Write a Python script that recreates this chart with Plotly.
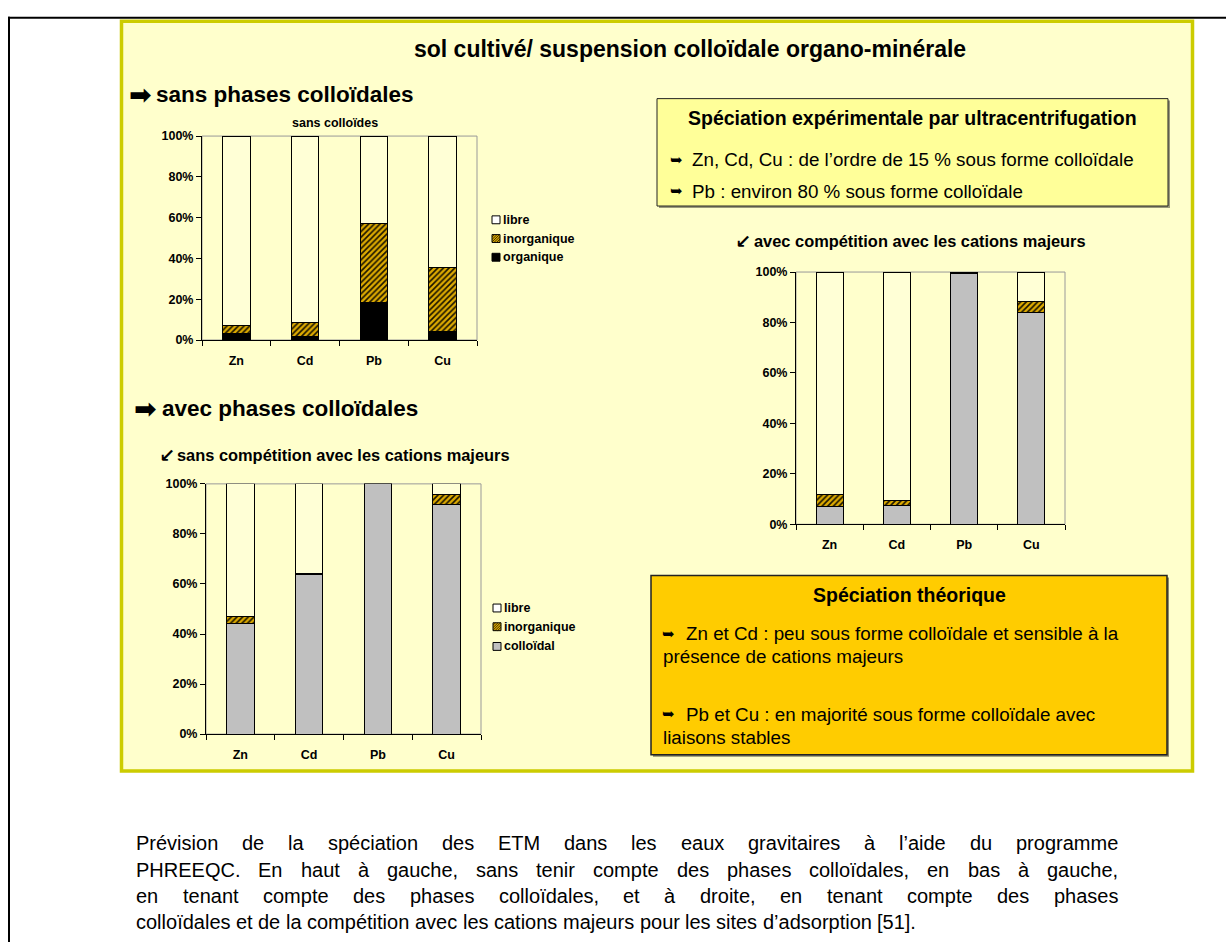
import plotly.graph_objects as go

W, H = 1226, 949
ARIAL = "Liberation Sans, Arial, sans-serif"
SYMB = "DejaVu Sans, sans-serif"

# ---------------------------------------------------------------- data (%)
metals = ["Zn", "Cd", "Pb", "Cu"]

# sans phases colloïdales
sc_organique = [3.2, 1.9, 18.5, 4.3]
sc_inorganique = [3.7, 6.9, 38.4, 31.4]
sc_libre = [93.1, 91.2, 43.1, 64.3]

# avec phases colloïdales, sans compétition avec les cations majeurs
ac_colloidal = [44.1, 63.6, 100.0, 91.7]
ac_inorganique = [3.0, 0.4, 0.0, 4.0]
ac_libre = [52.9, 36.0, 0.0, 4.3]

# avec phases colloïdales, avec compétition avec les cations majeurs
cc_colloidal = [7.2, 7.4, 99.6, 84.0]
cc_inorganique = [4.5, 2.1, 0.4, 4.3]
cc_libre = [88.3, 90.5, 0.0, 11.7]

y_tickvals = [0, 20, 40, 60, 80, 100]
y_ticktext = ["0%", "20%", "40%", "60%", "80%", "100%"]

caption_lines = [
    "Prévision de la spéciation des ETM dans les eaux gravitaires à l’aide du programme",
    "PHREEQC. En haut à gauche, sans tenir compte des phases colloïdales, en bas à gauche,",
    "en tenant compte des phases colloïdales, et à droite, en tenant compte des phases",
    "colloïdales et de la compétition avec les cations majeurs pour les sites d’adsorption [51].",
]

# ---------------------------------------------------------------- styles
PANEL_BG = "#FFFFCC"
PANEL_LINE = "#CCCC00"
LIBRE = "#FFFFD6"
GREY = "#C0C0C0"
GOLD = "#DDAA00"
HATCH_FG = "#1a1400"
HATCH = dict(shape="/", bgcolor=GOLD, fgcolor=HATCH_FG, size=4, solidity=0.4,
             fillmode="replace")


def px(x):
    return x / W


def py(y):
    return 1 - y / H


fig = go.Figure()


def add_bar(xa, ya, vals, color, pattern=None):
    marker = dict(color=color, line=dict(color="black", width=1))
    if pattern:
        marker["pattern"] = pattern
    fig.add_trace(go.Bar(x=metals, y=vals, width=0.4, marker=marker,
                         xaxis=xa, yaxis=ya, showlegend=False, hoverinfo="skip"))


# top left: sans colloïdes
add_bar("x", "y", sc_organique, "black")
add_bar("x", "y", sc_inorganique, GOLD, HATCH)
add_bar("x", "y", sc_libre, LIBRE)
# bottom left: sans compétition
add_bar("x2", "y2", ac_colloidal, GREY)
add_bar("x2", "y2", ac_inorganique, GOLD, HATCH)
add_bar("x2", "y2", ac_libre, LIBRE)
# right: avec compétition
add_bar("x3", "y3", cc_colloidal, GREY)
add_bar("x3", "y3", cc_inorganique, GOLD, HATCH)
add_bar("x3", "y3", cc_libre, LIBRE)

TICKFONT = dict(family=ARIAL, size=12.5, color="black", weight="bold")


def xaxis(left, right, anchor):
    return dict(domain=[px(left), px(right)], anchor=anchor, type="category",
                tickson="boundaries", ticks="outside", ticklen=5, tickcolor="black",
                showline=True, linecolor="black", linewidth=1, showgrid=False,
                tickfont=TICKFONT, ticklabelstandoff=9, fixedrange=True)


def yaxis(top, bottom, anchor):
    return dict(domain=[py(bottom), py(top)], anchor=anchor, range=[0, 100],
                tickvals=y_tickvals, ticktext=y_ticktext, ticks="outside",
                ticklen=5, tickcolor="black", showline=True, linecolor="black",
                linewidth=1, showgrid=False, zeroline=False, tickfont=TICKFONT,
                fixedrange=True)


shapes = []


def rect(x0, y0, x1, y1, fill, line=None, lw=1, layer="below"):
    shapes.append(dict(type="rect", xref="paper", yref="paper",
                       x0=px(x0), x1=px(x1), y0=py(y1), y1=py(y0),
                       fillcolor=fill, layer=layer,
                       line=dict(color=line or fill, width=lw if line else 0)))


def seg(x0, y0, x1, y1, color="black", w=2, layer="above"):
    shapes.append(dict(type="line", xref="paper", yref="paper", x0=px(x0), x1=px(x1),
                       y0=py(y0), y1=py(y1), layer=layer,
                       line=dict(color=color, width=w)))


# page frame and panel
seg(8, 11, W, 11, layer="below")
seg(9, 10, 9, H, layer="below")
rect(121.5, 14.5, 1192.5, 775.5, PANEL_BG, PANEL_LINE, 3.5)
# experimental box
rect(659, 95, 1170, 204, "#9a9a7a")
rect(657, 93, 1168, 202, "#FFFF99", "#222222", 1)
# theoretical box
rect(653, 579, 1169, 761, "#8a8a6a")
rect(651, 577, 1167, 759, "#FFCC00", "#222222", 1.5)

# plot frames (grey top/right border)
for i in ["", "2", "3"]:
    shapes.append(dict(type="rect", xref=f"x{i} domain", yref=f"y{i} domain",
                       x0=0, x1=1, y0=0, y1=1, line=dict(color="#999999", width=1),
                       layer="below"))

annotations = []


def text(x, y, s, size, bold=False, anchor="left", family=ARIAL, color="black"):
    annotations.append(dict(x=px(x), y=py(y), xref="paper", yref="paper",
                            text=f"<b>{s}</b>" if bold else s, showarrow=False,
                            xanchor=anchor, yanchor="middle", borderpad=0,
                            borderwidth=0,
                            font=dict(family=family, size=size, color=color)))


# titles and headings
text(690, 43, "sol cultivé/ suspension colloïdale organo-minérale", 23, True, "center")
text(129, 89, "➡", 27, True, family=SYMB)
text(156, 89, "sans phases colloïdales", 22.5, True)
text(134, 408, "➡", 27, True, family=SYMB)
text(162, 408, "avec phases colloïdales", 22.5, True)
text(335, 118, "sans colloïdes", 12.5, True, "center")
text(159, 455, "↙", 19, True, family=SYMB)
text(177, 455, "sans compétition avec les cations majeurs", 16.4, True)
text(735, 238, "↙", 19, True, family=SYMB)
text(754, 238, "avec compétition avec les cations majeurs", 16.4, True)


# legends: swatch squares, the hatched one drawn with short diagonal strokes
def swatch(x, yc, fill, hatched=False, s=8):
    y0 = yc - s / 2
    rect(x, y0, x + s, y0 + s, fill, "black", 1, layer="above")
    if hatched:
        for c in (2.5, 5.0, 7.5, 10.0, 12.5):
            if c <= s:
                seg(x, y0 + c, x + c, y0, HATCH_FG, 0.8)
            else:
                seg(x + c - s, y0 + s, x + s, y0 + c - s, HATCH_FG, 0.8)


def legend(x, ys, labels, fills):
    for yy, lab, fill in zip(ys, labels, fills):
        swatch(x, yy, fill, hatched=(lab == "inorganique"))
        text(x + 11, yy, lab, 12.5, True)


legend(492, [216, 235, 254], ["libre", "inorganique", "organique"],
       ["#FFFFFF", GOLD, "black"])
legend(493, [610, 629, 649], ["libre", "inorganique", "colloïdal"],
       ["#FFFFFF", GOLD, GREY])

# experimental box text
text(912, 113, "Spéciation expérimentale par ultracentrifugation", 19.5, True, "center")
text(670, 155, "➥", 15, family=SYMB)
text(692, 155, "Zn, Cd, Cu : de l’ordre de 15 % sous forme colloïdale", 18.8)
text(670, 187, "➥", 15, family=SYMB)
text(692, 187, "Pb : environ 80 % sous forme colloïdale", 18.8)

# theoretical box text
text(909, 597, "Spéciation théorique", 19.5, True, "center")
text(662, 636, "➥", 15, family=SYMB)
text(686, 636, "Zn et Cd : peu sous forme colloïdale et sensible à la", 18.8)
text(663, 659, "présence de cations majeurs", 18.8)
text(662, 718, "➥", 15, family=SYMB)
text(686, 718, "Pb et Cu : en majorité sous forme colloïdale avec", 18.8)
text(663, 741, "liaisons stables", 18.8)

# justified caption (Arial advance widths, 1/1000 em)
ARIAL_W = {" ": 278, ",": 278, ".": 278, "’": 222, "'": 191, "[": 278, "]": 278,
           "-": 333, "/": 278, ":": 278, "%": 889}
for c in "0123456789":
    ARIAL_W[c] = 556
ARIAL_W.update({"A": 667, "B": 667, "C": 722, "D": 722, "E": 667, "F": 611, "G": 778,
                "H": 722, "I": 278, "M": 833, "P": 667, "Q": 778, "R": 722, "T": 611})
ARIAL_W.update({"a": 556, "b": 556, "c": 500, "d": 556, "e": 556, "f": 278, "g": 556,
                "h": 556, "i": 222, "j": 222, "k": 500, "l": 222, "m": 833, "n": 556,
                "o": 556, "p": 556, "q": 556, "r": 333, "s": 500, "t": 278, "u": 556,
                "v": 500, "w": 722, "x": 500, "y": 500, "z": 500, "à": 556, "é": 556,
                "è": 556, "ï": 278})


def text_width(s, size):
    return sum(ARIAL_W.get(c, 556) for c in s) * size / 1000


CAP_SIZE = 20
CAP_L, CAP_R = 136, 1118
cap_y = [849, 876, 902, 929]
for i, line in enumerate(caption_lines):
    words = line.split(" ")
    widths = [text_width(w, CAP_SIZE) for w in words]
    if i < len(caption_lines) - 1:
        gap = (CAP_R - CAP_L - sum(widths)) / (len(words) - 1)
    else:
        gap = text_width(" ", CAP_SIZE)
    x = CAP_L
    for w, wd in zip(words, widths):
        text(x, cap_y[i], w, CAP_SIZE)
        x += wd + gap

fig.update_layout(
    width=W, height=H, margin=dict(l=0, r=0, t=0, b=0),
    paper_bgcolor="white", plot_bgcolor="rgba(0,0,0,0)",
    barmode="stack", bargap=0.6, showlegend=False,
    xaxis=xaxis(202, 477, "y"), yaxis=yaxis(131, 338, "x"),
    xaxis2=xaxis(206, 481, "y2"), yaxis2=yaxis(484, 738, "x2"),
    xaxis3=xaxis(796, 1065, "y3"), yaxis3=yaxis(269, 525, "x3"),
    shapes=shapes, annotations=annotations,
    font=dict(family=ARIAL, color="black"),
)

fig.write_html("out.html")
